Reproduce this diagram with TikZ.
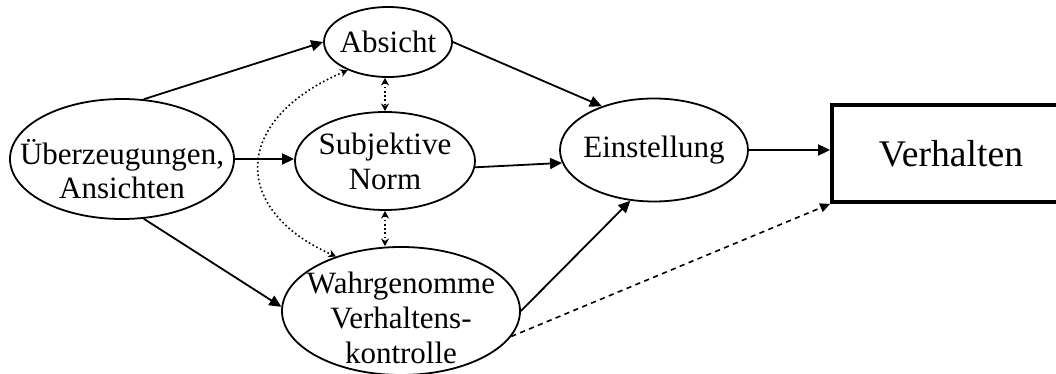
\documentclass[tikz,border=0pt]{standalone}
\usepackage{fontspec}
\setmainfont{Liberation Serif}
\usepackage{tikz}
\usetikzlibrary{shapes.geometric,arrows.meta}
\tikzset{
  bubble/.style={ellipse, draw, line width=0.9pt, inner sep=0pt},
  btext/.style={font=\fontsize{15.5}{17.4}\selectfont, align=center, inner sep=0pt},
  outbox/.style={rectangle, draw, line width=1.9pt, inner sep=0pt,
    font=\fontsize{18.8}{22}\selectfont},
  arr/.style={-{Triangle[length=6pt,width=5.5pt]}, line width=0.9pt},
  link/.style={{Stealth[length=3.8pt,width=4pt]}-{Stealth[length=3.8pt,width=4pt]},
    line width=0.8pt, dash pattern=on 0.8pt off 1.3pt},
  weak/.style={-{Triangle[length=5pt,width=4.5pt]}, line width=0.8pt,
    dash pattern=on 2.6pt off 2.2pt},
}
\newcommand{\bubblenode}[6]{\node[bubble, minimum width=#3pt, minimum height=#4pt] (#1) at (#2) {};%
  \node[btext, yshift=-#5pt] at (#1) {#6};}

\begin{document}
\begin{tikzpicture}[x=0.5pt, y=-0.5pt]
  \useasboundingbox (0,0) rectangle (1056,374);
  \clip (0,0) rectangle (1056,374);
  % ellipses
  \bubblenode{ub}{122,159}{112}{60}{5}{Überzeugungen,\\Ansichten}
  \bubblenode{ab}{388,42}{64}{35}{0}{Absicht}
  \bubblenode{nm}{385,161}{90}{49}{0}{Subjektive\\Norm}
  \bubblenode{wg}{401,311}{119}{64}{3.5}{Wahrgenomme\\Verhaltens-\\kontrolle}
  \bubblenode{es}{654,150}{94}{51.5}{0}{Einstellung}
  % behaviour box, runs past the right edge
  \node[outbox, minimum width=119pt, minimum height=48.5pt] (vh) at (951,153.5) {Verhalten};
  % solid arrows
  \draw[arr] (ub.70) -- (ab.west);
  \draw[arr] (ub.east) -- (ub.east -| nm.west);
  \draw[arr] (ub.-70) -- (wg.178);
  \draw[arr] (ab.east) -- (es.140);
  \draw[arr] (nm.-4) -- (es.188);
  \draw[arr] (wg.east) -- (es.-115);
  \draw[arr] (es.east) -- (es.east -| vh.west);
  % dashed arrow
  \draw[weak] (wg.-13) -- (vh.south west);
  % dotted links
  \draw[link] (nm.north |- ab.south) -- (nm.north);
  \draw[link] (nm.south) -- (nm.south |- wg.north);
  \draw[link] (ab.-145) .. controls (231,120) and (231,210) .. (wg.140);
\end{tikzpicture}
\end{document}
